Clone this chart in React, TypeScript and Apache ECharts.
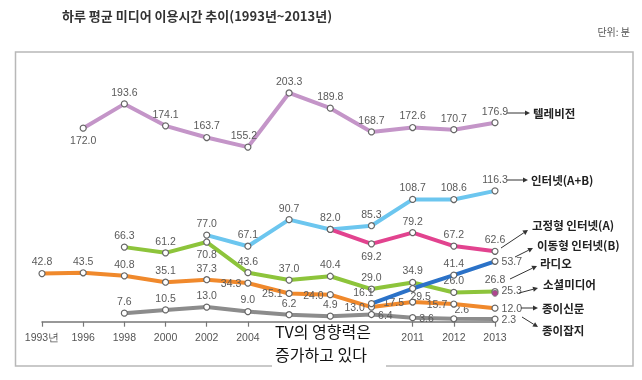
import React, { useEffect, useRef } from "react";
import * as echarts from "echarts";

const years = ["1993년", "1996", "1998", "2000", "2002", "2004", "2006", "2008", "2010", "2011", "2012", "2013"];
const tv = [null, 172.0, 193.6, 174.1, 163.7, 155.2, 203.3, 189.8, 168.7, 172.6, 170.7, 176.9];
const internetAB = [null, null, null, null, 77.0, 67.1, 90.7, 82.0, 85.3, 108.7, 108.6, 116.3];
const fixedInternet = [null, null, null, null, null, null, null, 82.0, 69.2, 79.2, 67.2, 62.6];
const mobileInternet = [null, null, null, null, null, null, null, null, 16.1, 29.5, 41.4, 53.7];
const radio = [null, null, 66.3, 61.2, 70.8, 43.6, 37.0, 40.4, 29.0, 34.9, 26.0, 26.8];
const socialMedia = [null, null, null, null, null, null, null, null, null, null, null, 25.3];
const newspaper = [42.8, 43.5, 40.8, 35.1, 37.3, 34.3, 25.1, 24.0, 13.0, 17.5, 15.7, 12.0];
const magazine = [null, null, 7.6, 10.5, 13.0, 9.0, 6.2, 4.9, 6.4, 3.6, 2.6, 2.3];

const seriesNames = ["텔레비전", "인터넷(A+B)", "고정형 인터넷(A)", "이동형 인터넷(B)", "라디오", "소셜미디어", "종이신문", "종이잡지"];
const title = "하루 평균 미디어 이용시간 추이(1993년~2013년)";
const unitText = "단위: 분";
const noteLines = ["TV의 영향력은", "증가하고 있다"];
// axis labels hidden behind the note box in the reference
const hiddenTickLabels = [6, 7, 8];

// label placement per point (layout only)
const tvPos = ["n", "b", "t", "t", "t", "t", "t", "t", "t", "t", "t", "t"];
const abPos = ["n", "n", "n", "n", "t", "t", "t", "t", "t", "t", "t", "t"];
const fixedPos = ["n", "n", "n", "n", "n", "n", "n", "n", "b", "t", "t", "t"];
const mobilePos = ["n", "n", "n", "n", "n", "n", "n", "n", "t", "b", "t", "r"];
const radioPos = ["n", "n", "t", "t", "b", "t", "t", "t", "t", "t", "t", "t"];
const socialPos = ["n", "n", "n", "n", "n", "n", "n", "n", "n", "n", "n", "r"];
const paperPos = ["t", "t", "t", "t", "t", "l", "l", "l", "l", "l", "l", "r"];
const magPos = ["n", "n", "t", "t", "t", "t", "t", "t", "r", "r", "t", "r"];

const POS: Record<string, string> = { t: "top", b: "bottom", l: "left", r: "right" };
const NUM_FONT = "'Liberation Sans Narrow', 'Liberation Sans', Arial, sans-serif";
const KR_FONT = "'Noto Sans CJK KR', 'Noto Sans', sans-serif";

function points(values: (number | null)[], pos: string[], offsets: Record<number, number[]> = {}) {
  return values.map((v, i) => {
    if (v == null) return null;
    if (pos[i] === "n") return { value: v, label: { show: false } };
    return { value: v, label: { position: POS[pos[i]], offset: offsets[i] || [0, 0] } };
  });
}

function line(name: string, data: any[], color: string, z: number, extra: any = {}) {
  return {
    type: "line",
    name,
    data,
    z,
    symbol: "circle",
    symbolSize: 6,
    showAllSymbol: true,
    connectNulls: false,
    lineStyle: { color, width: 4 },
    itemStyle: { color: "#fff", borderColor: "#666", borderWidth: 1.2 },
    label: {
      show: true,
      fontSize: 10.5,
      color: "#5a5a5a",
      fontFamily: NUM_FONT,
      distance: 3,
      formatter: (p: any) => (typeof p.value === "number" ? p.value.toFixed(1) : ""),
    },
    emphasis: { disabled: true },
    ...extra,
  };
}

function arrow(x1: number, y1: number, x2: number, y2: number) {
  const a = Math.atan2(y2 - y1, x2 - x1);
  const L = 5, W = 2.6;
  const bx = x2 - L * Math.cos(a), by = y2 - L * Math.sin(a);
  const px = -Math.sin(a) * W, py = Math.cos(a) * W;
  return [
    { type: "line", z: 10, shape: { x1, y1, x2: bx, y2: by }, style: { stroke: "#333", lineWidth: 1 } },
    { type: "polygon", z: 10, shape: { points: [[x2, y2], [bx + px, by + py], [bx - px, by - py]] }, style: { fill: "#333" } },
  ];
}

const arrowLines = [
  [507, 113, 530, 113],
  [507, 180, 528, 180],
  [501, 248, 528, 230],
  [515, 257, 533, 248],
  [510, 279, 537, 266],
  [519, 293, 538, 288],
  [521, 308, 538, 308],
  [522, 317, 538, 327],
];
const labelSpots = [
  [533, 113], [531, 180], [532, 225], [537, 245], [540, 263], [543, 284], [542, 308], [542, 330],
];

export default function App() {
  const ref = useRef<HTMLDivElement>(null);
  useEffect(() => {
    document.body.style.margin = "0";
    const chart = echarts.init(ref.current!, null, { renderer: "svg" });
    const graphic: any[] = [
      { type: "rect", z: 0, shape: { x: 15.5, y: 52, width: 617.5, height: 314 }, style: { fill: "none", stroke: "#b8b8b8", lineWidth: 1.5 } },
      { type: "text", left: 62, top: 9, style: { text: title, fontSize: 13, fontWeight: "bold", fill: "#333", fontFamily: KR_FONT } },
      { type: "text", right: 12, top: 26, style: { text: unitText, fontSize: 10, fill: "#555", fontFamily: KR_FONT } },
      { type: "rect", z: 20, shape: { x: 272, y: 324, width: 114, height: 46 }, style: { fill: "#fff" } },
      { type: "text", z: 21, x: 275, y: 331, style: { text: noteLines[0], fontSize: 16, fill: "#111", fontFamily: KR_FONT, verticalAlign: "middle" } },
      { type: "text", z: 21, x: 275, y: 354, style: { text: noteLines[1], fontSize: 16, fill: "#111", fontFamily: KR_FONT, verticalAlign: "middle" } },
    ];
    arrowLines.forEach((a) => graphic.push(...arrow(a[0], a[1], a[2], a[3])));
    seriesNames.forEach((n, i) =>
      graphic.push({
        type: "text", z: 10, x: labelSpots[i][0], y: labelSpots[i][1],
        style: { text: n, fontSize: 11.5, fontWeight: "bold", fill: "#222", fontFamily: KR_FONT, verticalAlign: "middle" },
      })
    );

    chart.setOption({
      animation: false,
      grid: { left: 42, right: 147, top: 51.7, bottom: 58.3 },
      xAxis: {
        type: "category",
        data: years,
        boundaryGap: false,
        axisLine: { lineStyle: { color: "#777", width: 1.5 } },
        axisTick: { show: true, length: 5, lineStyle: { color: "#777", width: 1.2 } },
        axisLabel: {
          color: "#555", fontSize: 10.5, fontFamily: NUM_FONT, margin: 10,
          interval: (i: number) => hiddenTickLabels.indexOf(i) < 0,
        },
        splitLine: { show: false },
      },
      yAxis: { type: "value", min: 0, max: 240, show: false, splitLine: { show: false } },
      graphic,
      series: [
        line(seriesNames[7], points(magazine, magPos, { 10: [8, 2] }), "#8c8c8c", 2),
        line(seriesNames[6], points(newspaper, paperPos, { 9: [-2, 0] }), "#f0892c", 3),
        line(seriesNames[4], points(radio, radioPos), "#8dc43b", 4),
        line(seriesNames[3], points(mobileInternet, mobilePos, { 8: [-8, 1], 9: [8, -5] }), "#2b72c8", 5),
        line(seriesNames[2], points(fixedInternet, fixedPos), "#e2438f", 6),
        line(seriesNames[1], points(internetAB, abPos), "#6cc6ef", 5),
        line(seriesNames[0], points(tv, tvPos, { 5: [-4, 0] }), "#c495c8", 6),
        line(seriesNames[5], points(socialMedia, socialPos, { 11: [0, -3] }), "#b0458f", 7, {
          itemStyle: { color: "#b0458f", borderColor: "#777", borderWidth: 1 },
        }),
      ],
    });
    return () => chart.dispose();
  }, []);
  return <div ref={ref} style={{ position: "fixed", left: 0, top: 0, width: 642, height: 380 }} />;
}
